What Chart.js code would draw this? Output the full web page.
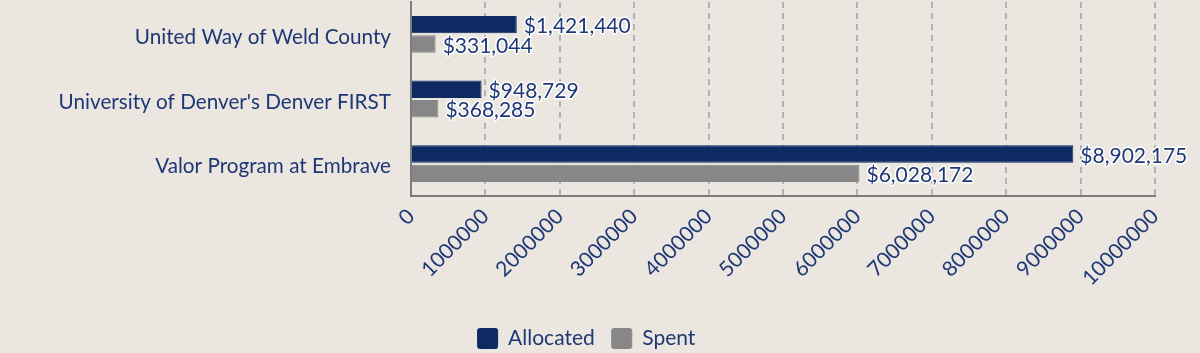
<!DOCTYPE html>
<html>
<head>
<meta charset="utf-8">
<script src="https://cdn.jsdelivr.net/npm/chart.js@4/dist/chart.umd.min.js"></script>
<style>
  html, body { margin: 0; padding: 0; background: #ebe6e0; }
  #wrap { width: 1200px; height: 353px; }
</style>
</head>
<body>
<div id="wrap"><canvas id="grants"></canvas></div>
<script>
// categories and series
const programs = ['United Way of Weld County', "University of Denver's Denver FIRST", 'Valor Program at Embrave'];
const allocated = [1421440, 948729, 8902175];
const spent = [331044, 368285, 6028172];
const xTicks = [0, 1000000, 2000000, 3000000, 4000000, 5000000, 6000000, 7000000, 8000000, 9000000, 10000000];

const navy = '#0e2a63';
const grey = '#878787';
const textColor = '#1e3876';

// draws the "$1,421,440" labels at the end of each bar
const valueLabels = {
  id: 'valueLabels',
  afterDatasetsDraw(chart) {
    const ctx = chart.ctx;
    ctx.save();
    ctx.font = '21px Lato';
    ctx.textBaseline = 'middle';
    ctx.textAlign = 'left';
    ctx.lineJoin = 'round';
    chart.data.datasets.forEach((ds, i) => {
      const meta = chart.getDatasetMeta(i);
      meta.data.forEach((bar, j) => {
        const text = '$' + ds.data[j].toLocaleString('en-US');
        const x = bar.x + 7;
        const y = bar.y + 2;
        ctx.lineWidth = 3;
        ctx.strokeStyle = '#ffffff';
        ctx.strokeText(text, x, y);
        ctx.fillStyle = textColor;
        ctx.fillText(text, x, y);
      });
    });
    ctx.restore();
  }
};

new Chart(document.getElementById('grants'), {
  type: 'bar',
  data: {
    labels: programs,
    datasets: [
      { label: 'Allocated', data: allocated, backgroundColor: navy, borderColor: navy, borderWidth: 1 },
      { label: 'Spent', data: spent, backgroundColor: grey, borderColor: grey, borderWidth: 1 }
    ]
  },
  options: {
    indexAxis: 'y',
    responsive: true,
    maintainAspectRatio: false,
    animation: false,
    layout: { padding: { top: 2, right: 45, left: 18, bottom: -6 } },
    datasets: { bar: { categoryPercentage: 0.6, barPercentage: 0.9 } },
    scales: {
      x: {
        min: 0,
        max: 10000000,
        afterBuildTicks(scale) { scale.ticks = xTicks.map(v => ({ value: v })); },
        afterFit(scale) {
          scale.height = 115;
          scale.paddingLeft = 0;
          scale.paddingRight = 0;
        },
        grid: { color: '#b3b3b3', lineWidth: 2, drawTicks: false },
        border: { display: true, color: '#7c7c7c', width: 2, dash: [6, 5] },
        ticks: {
          color: textColor,
          font: { family: 'Lato', size: 21 },
          minRotation: 45,
          maxRotation: 45,
          padding: 8,
          autoSkip: false,
          callback: v => String(v)
        }
      },
      y: {
        afterFit(scale) {
          scale.width = 393;
          scale.paddingTop = 0;
          scale.paddingBottom = 0;
        },
        grid: { display: false, drawTicks: false },
        border: { display: true, color: '#7c7c7c', width: 2 },
        ticks: {
          color: textColor,
          font: { family: 'Lato', size: 20.7 },
          padding: 20,
          labelOffset: 3
        }
      }
    },
    plugins: {
      legend: {
        position: 'bottom',
        labels: {
          color: textColor,
          font: { family: 'Lato', size: 21 },
          boxWidth: 20,
          boxHeight: 20,
          padding: 17,
          useBorderRadius: true,
          borderRadius: 2
        }
      },
      tooltip: { enabled: false }
    }
  },
  plugins: [valueLabels]
});
</script>
</body>
</html>
